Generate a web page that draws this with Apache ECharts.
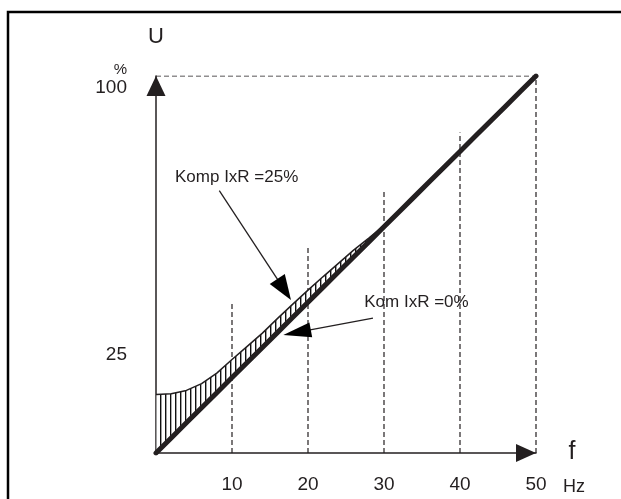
<!DOCTYPE html>
<html><head><meta charset="utf-8">
<script src="https://cdn.jsdelivr.net/npm/echarts@6/dist/echarts.min.js"></script>
<style>html,body{margin:0;padding:0;background:#fff}#c{width:621px;height:499px}</style>
</head><body><div id="c"></div>
<script>
// ---- data ----
const freqHz = [0,2,4,6,8,10,12,14,16,18,20,22,24,26,28,30,32,34,36,38,40,42,44,46,48,50];
const voltNoComp = [0,4,8,12,16,20,24,28,32,36,40,44,48,52,56,60,64,68,72,76,80,84,88,92,96,100];
const voltComp = [15.5,15.7,16.6,18.4,21.2,24.8,28.3,31.8,35.7,39.5,43.2,46.8,50.3,53.8,57,60.3,64,68,72,76,80,84,88,92,96,100];
const guideFreqs = [10,20,30,40,50];
const guideTops = [40,55,70,85,100];
const topGuideFreqs = [0,50];
const topGuideVolts = [100,100];
const xTickLabels = ['10','20','30','40','50'];
const yTickLabels = ['25','100'];
const labelComp = 'Komp IxR =25%';
const labelNoComp = 'Kom IxR =0%';

const INK = '#231f20';
const FONT = '"Liberation Sans", Arial, sans-serif';

const chart = echarts.init(document.getElementById('c'), null, {renderer:'canvas'});

// hatch pattern (vertical lines)
const pat = document.createElement('canvas');
pat.width = 5; pat.height = 10;
const pctx = pat.getContext('2d');
pctx.fillStyle = '#fff'; pctx.fillRect(0,0,5,10);
pctx.fillStyle = '#111'; pctx.fillRect(0,0,1.4,10);

// band segments between the two curves
const bandSegs = [];
for (let i = 0; i < freqHz.length - 1; i++) {
  bandSegs.push([freqHz[i], freqHz[i+1], voltComp[i], voltComp[i+1], voltNoComp[i], voltNoComp[i+1]]);
}

chart.setOption({
  animation:false,
  backgroundColor:'#fff',
  grid:{left:156,right:85,top:76,bottom:46,containLabel:false},
  xAxis:{type:'value',min:0,max:50,interval:10,
    axisLine:{show:true,onZero:false,symbol:['none','triangle'],symbolSize:[18,20],symbolOffset:[0,-10],lineStyle:{color:INK,width:1.5}},
    axisTick:{show:false},splitLine:{show:false},
    axisLabel:{margin:22,fontSize:19,color:INK,fontFamily:FONT,
      formatter:v=>{const s=String(v);return xTickLabels.includes(s)?s:'';}}},
  yAxis:{type:'value',min:0,max:100,interval:25,
    axisLine:{show:true,onZero:false,symbol:['none','triangle'],symbolSize:[19,20],symbolOffset:[0,-10],lineStyle:{color:INK,width:1.5}},
    axisTick:{show:false},splitLine:{show:false},
    axisLabel:{margin:29,fontSize:19,color:INK,fontFamily:FONT,
      formatter:v=>{const s=String(v);if(!yTickLabels.includes(s))return '';
        return s==='100'?'{n|100}':'{m|'+s+'}';},
      rich:{n:{fontSize:19,color:INK,fontFamily:FONT,lineHeight:20,padding:[24,0,0,0]},
            m:{fontSize:19,color:INK,fontFamily:FONT,lineHeight:20,padding:[0,0,8,0]}}}},
  series:[
    {type:'custom',z:1,silent:true,
     data:guideFreqs.map((f,i)=>[f,guideTops[i]]),
     renderItem:(params,api)=>{
       const p0=api.coord([api.value(0),0]);const p1=api.coord([api.value(0),api.value(1)]);
       return {type:'line',shape:{x1:p0[0],y1:p0[1],x2:p1[0],y2:p1[1]},
         style:{stroke:INK,lineWidth:1.2,lineDash:[5,3]}};
     }},
    {type:'line',z:1,silent:true,symbol:'none',
     data:topGuideFreqs.map((f,i)=>[f,topGuideVolts[i]]),
     lineStyle:{color:INK,width:1.2,type:[5,3]}},
    {type:'custom',z:2,silent:true,
     data:bandSegs,
     renderItem:(params,api)=>{
       const a=api.coord([api.value(0),api.value(2)]);
       const b=api.coord([api.value(1),api.value(3)]);
       const c=api.coord([api.value(1),api.value(5)]);
       const d=api.coord([api.value(0),api.value(4)]);
       return {type:'polygon',shape:{points:[a,b,c,d]},
         style:{fill:{image:pat,repeat:'repeat'},stroke:null}};
     }},
    {type:'line',name:'comp',z:3,symbol:'none',silent:true,
     data:freqHz.map((f,i)=>[f,voltComp[i]]),
     lineStyle:{color:INK,width:1.5}},
    {type:'line',name:'base',z:5,symbol:'none',silent:true,
     data:freqHz.map((f,i)=>[f,voltNoComp[i]]),
     lineStyle:{color:INK,width:5,cap:'round'}}
  ]
});

const px = p => chart.convertToPixel({gridIndex:0}, p);
function arrow(s, t, L, W){
  const S=px(s), T=px(t);
  const dx=T[0]-S[0], dy=T[1]-S[1], len=Math.hypot(dx,dy);
  const ux=dx/len, uy=dy/len, nx=-uy, ny=ux;
  const B=[T[0]-ux*L, T[1]-uy*L];
  return [
    {type:'line',shape:{x1:S[0],y1:S[1],x2:B[0]+ux*2,y2:B[1]+uy*2},style:{stroke:INK,lineWidth:1.3},z:20},
    {type:'polygon',shape:{points:[T,[B[0]+nx*W/2,B[1]+ny*W/2],[B[0]-nx*W/2,B[1]-ny*W/2]]},style:{fill:'#000'},z:20}
  ];
}
const origin = px([0,0]);
const top100 = px([0,100]);
const end50 = px([50,0]);
const g = [
  {type:'rect',shape:{x:8,y:12,width:900,height:800},style:{fill:null,stroke:'#000',lineWidth:2.5},z:30},
  {type:'text',x:top100[0],y:37,style:{text:'U',font:'22px '+FONT,fill:INK,align:'center',verticalAlign:'middle'},z:20},
  {type:'text',x:top100[0]-29,y:top100[1]-6,style:{text:'%',font:'15px '+FONT,fill:INK,align:'right',verticalAlign:'middle'},z:20},
  {type:'text',x:end50[0]+36,y:origin[1]-1,style:{text:'f',font:'25px '+FONT,fill:INK,align:'center',verticalAlign:'middle'},z:20},
  {type:'text',x:end50[0]+38,y:origin[1]+34,style:{text:'Hz',font:'18px '+FONT,fill:INK,align:'center',verticalAlign:'middle'},z:20},
];
const cT = px([2.5,73.2]);
g.push({type:'text',x:cT[0],y:cT[1],style:{text:labelComp,font:'17px '+FONT,fill:INK,align:'left',verticalAlign:'middle'},z:20});
const nT = px([27.4,40.1]);
g.push({type:'text',x:nT[0],y:nT[1],style:{text:labelNoComp,font:'17px '+FONT,fill:INK,align:'left',verticalAlign:'middle'},z:20});
g.push(...arrow([8.33,69.6],[17.76,40.6],25,18));
g.push(...arrow([28.55,35.8],[16.75,31.3],28,15));
chart.setOption({graphic:g});
</script></body></html>
